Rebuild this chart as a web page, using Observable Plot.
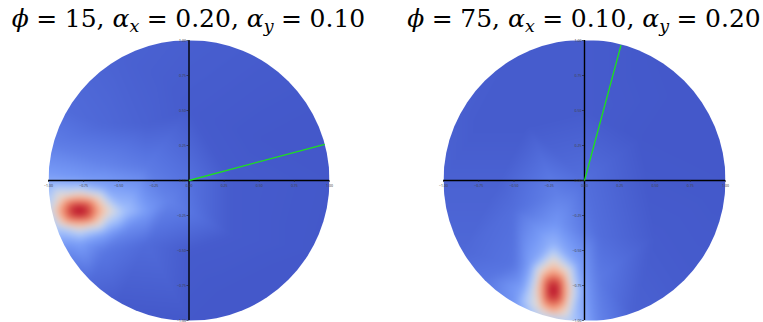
<!DOCTYPE html>
<html>
<head>
<meta charset="utf-8">
<script src="https://cdn.jsdelivr.net/npm/d3@7"></script>
<script src="https://cdn.jsdelivr.net/npm/@observablehq/plot@0.6"></script>
<style>
  body { margin: 0; background: #fff; }
  #wrap { position: relative; width: 763px; height: 322px; overflow: hidden; }
  .panel { position: absolute; top: 0; height: 322px; }
  .panel svg { position: absolute; top: 0; left: 0; }
  .title {
    position: absolute; top: 6px; width: 420px; text-align: center;
    font-family: "DejaVu Serif", serif; font-size: 25px; font-weight: 300;
    line-height: 1; white-space: nowrap; color: #000; z-index: 2;
  }
  .title i { font-style: italic; }
  .title .eq { margin: 0 0.3em; }
  .title sub { font-size: 0.7em; vertical-align: -0.3em; line-height: 0; }
</style>
</head>
<body>
<div id="wrap"></div>
<script>
// Panel parameters: orientation angle (degrees) and anisotropy widths
const phis = [15, 75];
const alphaX = [0.20, 0.10];
const alphaY = [0.10, 0.20];

// Axis ticks drawn along the centre lines
const tickValues = [-1, -0.75, -0.5, -0.25, 0, 0.25, 0.5, 0.75, 1];
const tickLabels = ["\u22121.00", "\u22120.75", "\u22120.50", "\u22120.25", "0.00", "0.25", "0.50", "0.75", "1.00"];

// Sampled intensity over the unit disk: [x, y, value]
const samplesLeft = [
  // rim
  [1.0, 0.0, 0.04], [0.87, 0.5, 0.04], [0.5, 0.87, 0.05], [0.0, 1.0, 0.06],
  [-0.5, 0.87, 0.07], [-0.87, 0.5, 0.1], [-0.97, 0.26, 0.16], [-1.0, 0.0, 0.28],
  [-0.98, -0.2, 0.45], [-0.94, -0.34, 0.38], [-0.87, -0.5, 0.2], [-0.7, -0.71, 0.1],
  [-0.5, -0.87, 0.05], [0.0, -1.0, 0.04], [0.5, -0.87, 0.04], [0.87, -0.5, 0.04],
  // interior
  [0.0, 0.0, 0.12], [0.3, 0.0, 0.05], [0.5, 0.3, 0.04], [0.3, -0.4, 0.05],
  [0.0, -0.5, 0.05], [0.0, 0.5, 0.05], [-0.3, 0.4, 0.07], [-0.6, 0.4, 0.09],
  [-0.6, 0.12, 0.18], [-0.3, 0.1, 0.15], [-0.3, -0.22, 0.26], [-0.15, -0.15, 0.18],
  [-0.45, -0.22, 0.36], [-0.3, -0.45, 0.1], [-0.6, -0.5, 0.14], [-0.45, -0.36, 0.2],
  [0.6, -0.6, 0.04], [-0.2, 0.75, 0.06], [0.2, -0.8, 0.04],
  // bright spot
  [-0.78, -0.215, 1.0],
  [-0.73, -0.215, 0.96], [-0.83, -0.215, 0.96], [-0.78, -0.185, 0.96], [-0.78, -0.245, 0.96],
  [-0.68, -0.215, 0.84], [-0.88, -0.215, 0.84], [-0.78, -0.155, 0.84], [-0.78, -0.275, 0.84],
  [-0.71, -0.165, 0.86], [-0.85, -0.165, 0.86], [-0.71, -0.265, 0.86], [-0.85, -0.265, 0.86],
  [-0.62, -0.215, 0.66], [-0.94, -0.215, 0.66], [-0.78, -0.12, 0.66], [-0.78, -0.31, 0.66],
  [-0.65, -0.13, 0.58], [-0.91, -0.13, 0.58], [-0.65, -0.3, 0.58], [-0.91, -0.3, 0.58],
  [-0.55, -0.215, 0.5], [-0.78, -0.07, 0.45], [-0.78, -0.36, 0.45],
  [-0.78, 0.0, 0.26], [-0.78, -0.44, 0.28], [-0.6, -0.05, 0.28], [-0.6, -0.38, 0.28]
];

const samplesRight = [
  // rim
  [1.0, 0.0, 0.04], [0.87, 0.5, 0.04], [0.5, 0.87, 0.04], [0.0, 1.0, 0.05],
  [-0.5, 0.87, 0.05], [-0.87, 0.5, 0.06], [-1.0, 0.0, 0.07], [-0.87, -0.5, 0.09],
  [-0.7, -0.71, 0.14], [-0.5, -0.87, 0.24], [-0.3, -0.95, 0.45], [-0.1, -0.99, 0.4],
  [0.1, -0.99, 0.18], [0.34, -0.94, 0.07], [0.7, -0.71, 0.05],
  // interior
  [0.0, 0.0, 0.11], [-0.2, -0.1, 0.17], [-0.2, -0.3, 0.24], [-0.22, -0.45, 0.32],
  [-0.5, -0.2, 0.11], [0.1, -0.4, 0.11], [-0.5, -0.6, 0.13], [0.1, -0.7, 0.15],
  [0.4, 0.3, 0.04], [-0.4, 0.4, 0.05], [0.5, -0.4, 0.05], [-0.6, 0.0, 0.07],
  [0.0, 0.5, 0.05], [0.6, 0.6, 0.04], [-0.75, 0.4, 0.05],
  // bright spot
  [-0.22, -0.785, 1.0],
  [-0.22, -0.735, 0.96], [-0.22, -0.835, 0.96], [-0.19, -0.785, 0.96], [-0.25, -0.785, 0.96],
  [-0.22, -0.685, 0.84], [-0.22, -0.885, 0.84], [-0.16, -0.785, 0.84], [-0.28, -0.785, 0.84],
  [-0.17, -0.715, 0.86], [-0.27, -0.715, 0.86], [-0.17, -0.855, 0.86], [-0.27, -0.855, 0.86],
  [-0.22, -0.625, 0.66], [-0.22, -0.945, 0.66], [-0.125, -0.785, 0.66], [-0.315, -0.785, 0.66],
  [-0.135, -0.655, 0.58], [-0.305, -0.655, 0.58], [-0.135, -0.915, 0.58], [-0.305, -0.915, 0.58],
  [-0.22, -0.555, 0.5], [-0.075, -0.785, 0.45], [-0.365, -0.785, 0.45],
  [0.0, -0.785, 0.26], [-0.44, -0.785, 0.28], [-0.05, -0.6, 0.28], [-0.38, -0.6, 0.28]
];

const panels = [
  {phi: phis[0], ax: alphaX[0], ay: alphaY[0], samples: samplesLeft, left: 0, width: 381, ml: 48, mr: 52},
  {phi: phis[1], ax: alphaX[1], ay: alphaY[1], samples: samplesRight, left: 381, width: 382, ml: 62, mr: 38}
];

const wrap = document.getElementById("wrap");

panels.forEach((p, k) => {
  const div = document.createElement("div");
  div.className = "panel";
  div.style.left = p.left + "px";
  div.style.width = p.width + "px";

  const plot = Plot.plot({
    width: p.width,
    height: 322,
    marginLeft: p.ml,
    marginRight: p.mr,
    marginTop: 40,
    marginBottom: 2,
    x: {domain: [-1, 1], axis: null},
    y: {domain: [-1, 1], axis: null},
    color: {
      type: "linear",
      domain: [0, 0.125, 0.25, 0.375, 0.5, 0.625, 0.75, 0.875, 1],
      range: ["#3b4cc0", "#5673e0", "#7699f6", "#aac7fd", "#dddcdc", "#f5c4ac", "#f49a7b", "#de614d", "#b40426"]
    },
    style: {background: "transparent", overflow: "visible"},
    marks: [
      Plot.raster(p.samples, {
        x: d => d[0], y: d => d[1], fill: d => d[2],
        x1: -1, x2: 1, y1: -1, y2: 1,
        interpolate: "barycentric", blur: 3
      }),
      Plot.ruleY([0], {x1: -1, x2: 1, stroke: "#000", strokeWidth: 1.4}),
      Plot.ruleX([0], {y1: -1, y2: 1, stroke: "#000", strokeWidth: 1.4}),
      Plot.ruleX(tickValues, {x: d => d, y1: 0, y2: 0, insetBottom: -2, stroke: "#222", strokeWidth: 0.6}),
      Plot.ruleY(tickValues, {y: d => d, x1: 0, x2: 0, insetLeft: -2, stroke: "#222", strokeWidth: 0.6}),
      Plot.text(tickValues, {x: d => d, y: 0, text: (d, i) => tickLabels[i], dy: 5, fontSize: 3.5, fill: "#444"}),
      Plot.text(tickValues, {x: 0, y: d => d, text: (d, i) => tickLabels[i], dx: -3, textAnchor: "end", fontSize: 3.5, fill: "#444"}),
      Plot.link([p.phi], {
        x1: 0, y1: 0,
        x2: d => Math.cos(d * Math.PI / 180),
        y2: d => Math.sin(d * Math.PI / 180),
        stroke: "#1ee01e", strokeWidth: 1.3
      })
    ]
  });

  // Clip the intensity field to the unit disk
  const sx = plot.scale("x"), sy = plot.scale("y");
  const cx = sx.apply(0), cy = sy.apply(0), r = sx.apply(1) - cx;
  const ns = "http://www.w3.org/2000/svg";
  const defs = document.createElementNS(ns, "defs");
  const clip = document.createElementNS(ns, "clipPath");
  clip.setAttribute("id", "disk" + k);
  const circ = document.createElementNS(ns, "circle");
  circ.setAttribute("cx", cx);
  circ.setAttribute("cy", cy);
  circ.setAttribute("r", r);
  clip.appendChild(circ);
  defs.appendChild(clip);
  plot.insertBefore(defs, plot.firstChild);
  const rasterG = plot.querySelector('[aria-label="raster"]');
  if (rasterG) rasterG.setAttribute("clip-path", `url(#disk${k})`);

  div.appendChild(plot);

  const title = document.createElement("div");
  title.className = "title";
  title.style.left = (cx - 210) + "px";
  title.innerHTML = `<i>\u03d5</i><span class="eq">=</span>${p.phi}, ` +
    `<i>\u03b1</i><sub><i>x</i></sub><span class="eq">=</span>${p.ax.toFixed(2)}, ` +
    `<i>\u03b1</i><sub><i>y</i></sub><span class="eq">=</span>${p.ay.toFixed(2)}`;
  div.appendChild(title);

  wrap.appendChild(div);
});
</script>
</body>
</html>
